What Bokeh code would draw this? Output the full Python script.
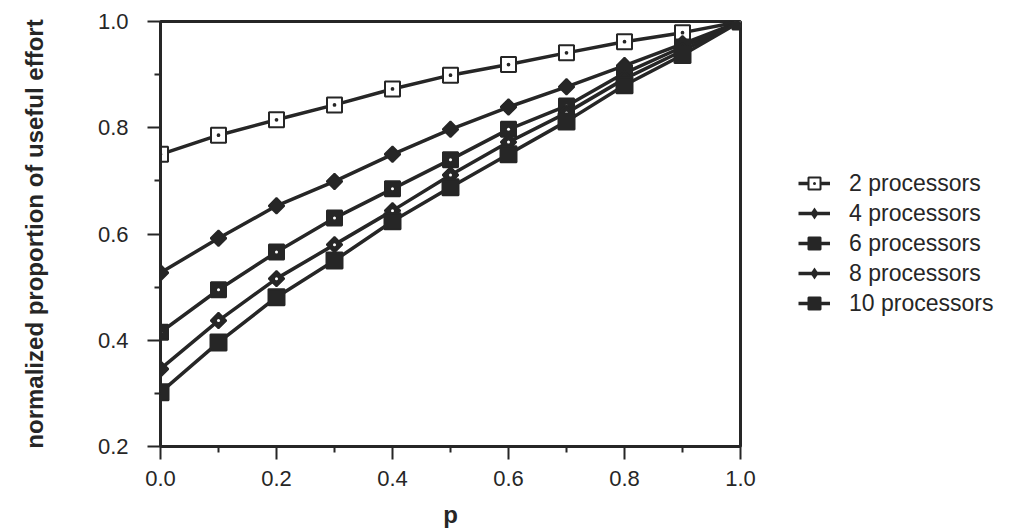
import math
from bokeh.plotting import figure
from bokeh.models import Legend, LegendItem, FixedTicker, NumeralTickFormatter
from bokeh.embed import file_html
from bokeh.resources import INLINE

# ---- data ----
p_values = [0.0, 0.1, 0.2, 0.3, 0.4, 0.5, 0.6, 0.7, 0.8, 0.9, 1.0]
proc2 = [0.750, 0.786, 0.815, 0.843, 0.873, 0.899, 0.919, 0.941, 0.962, 0.979, 1.0]
proc4 = [0.527, 0.592, 0.653, 0.699, 0.750, 0.797, 0.839, 0.877, 0.917, 0.958, 1.0]
proc6 = [0.415, 0.495, 0.566, 0.630, 0.685, 0.740, 0.797, 0.841, 0.903, 0.952, 1.0]
proc8 = [0.346, 0.437, 0.516, 0.580, 0.644, 0.711, 0.773, 0.828, 0.892, 0.945, 1.0]
proc10 = [0.302, 0.396, 0.481, 0.550, 0.624, 0.688, 0.750, 0.812, 0.880, 0.937, 1.0]
series_labels = ["2 processors", "4 processors", "6 processors", "8 processors", "10 processors"]
x_ticks = [0.0, 0.2, 0.4, 0.6, 0.8, 1.0]
x_minor = [0.1, 0.3, 0.5, 0.7, 0.9]
y_ticks = [0.2, 0.4, 0.6, 0.8, 1.0]
y_minor = [0.3, 0.5, 0.7, 0.9]

INK = "#262626"
FONT = "Liberation Sans"

p = figure(frame_width=580, frame_height=425,
           x_range=(0.0, 1.0), y_range=(0.2, 1.0),
           min_border_left=160, min_border_right=261,
           min_border_top=21, min_border_bottom=77,
           output_backend="svg", toolbar_location=None,
           background_fill_color="white", border_fill_color="white")

p.xgrid.visible = False
p.ygrid.visible = False
p.outline_line_color = INK
p.outline_line_width = 3

for ax, ticks, minor in ((p.xaxis[0], x_ticks, x_minor), (p.yaxis[0], y_ticks, y_minor)):
    ax.ticker = FixedTicker(ticks=ticks, minor_ticks=minor)
    ax.formatter = NumeralTickFormatter(format="0.0")
    ax.axis_line_color = INK
    ax.axis_line_width = 3
    ax.major_tick_line_color = INK
    ax.major_tick_line_width = 2
    ax.minor_tick_line_color = INK
    ax.minor_tick_line_width = 2
    ax.major_tick_in = 0
    ax.major_tick_out = 13
    ax.minor_tick_in = 0
    ax.minor_tick_out = 6
    ax.major_label_text_font = FONT
    ax.major_label_text_font_size = "22px"
    ax.major_label_text_color = INK
    ax.axis_label_text_font = FONT
    ax.axis_label_text_font_style = "bold"
    ax.axis_label_text_color = INK

p.xaxis.major_label_standoff = 11
p.yaxis.major_label_standoff = 19
p.xaxis.axis_label = "p"
p.xaxis.axis_label_text_font_size = "24px"
p.xaxis.axis_label_standoff = 12
p.yaxis.axis_label = "normalized proportion of useful effort"
p.yaxis.axis_label_text_font_size = "24px"
p.yaxis.axis_label_standoff = 47

items = []
ROT = math.pi / 4

def add_series(ys, label, marker, size, fill, angle=0.0, dot=False, legend_marker=None):
    r_line = p.line(p_values, ys, line_color=INK, line_width=3.5)
    r_mark = p.scatter(p_values, ys, marker=marker, size=size, angle=angle,
                       fill_color=fill, line_color=INK, line_width=2)
    if dot:
        p.scatter(p_values, ys, marker="circle", size=3,
                  fill_color="white", line_alpha=0)
    rs = [r_line]
    if legend_marker is None:
        rs.append(r_mark)
    else:
        # legend-only glyph (size 0 in the plot; the legend sizes it itself)
        rs.append(p.scatter(p_values, ys, marker=legend_marker, size=0,
                            fill_color=INK, line_alpha=0))
    items.append(LegendItem(label=label, renderers=rs))

add_series(proc2, series_labels[0], "square_dot", 15, "white")
add_series(proc4, series_labels[1], "square", 11, INK, angle=ROT, legend_marker="diamond")
add_series(proc6, series_labels[2], "square", 15, INK, dot=True)
add_series(proc8, series_labels[3], "square", 11, INK, angle=ROT, dot=True, legend_marker="diamond")
add_series(proc10, series_labels[4], "square", 16, INK)

legend = Legend(items=items, location=(58, 128),
                glyph_width=32, glyph_height=30, label_height=30,
                spacing=0, label_standoff=19, padding=0, margin=0,
                border_line_alpha=0, background_fill_alpha=0,
                label_text_font=FONT, label_text_font_size="23px",
                label_text_color=INK)
p.add_layout(legend, "right")

open("out.html", "w").write(file_html(p, INLINE))
